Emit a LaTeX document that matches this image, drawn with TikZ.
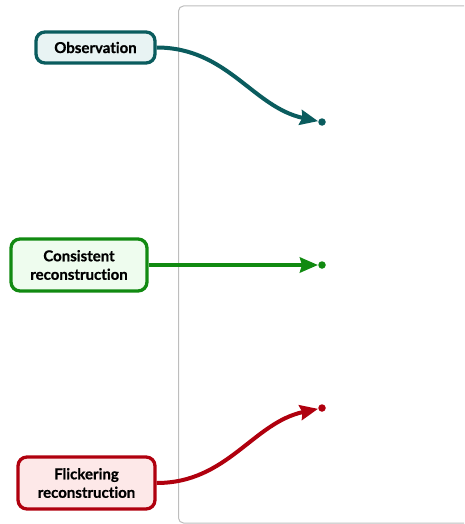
\documentclass[tikz,border=0pt]{standalone}
\usepackage{fontspec}
\setmainfont[Ligatures={NoCommon,NoRare,NoContextual},BoldFeatures={FakeBold=0.8}]{Lato}
\usetikzlibrary{arrows.meta}
\definecolor{obsB}{HTML}{0A5C5E}
\definecolor{obsF}{HTML}{E8F3F3}
\definecolor{conB}{HTML}{118A11}
\definecolor{conF}{HTML}{EEFCEE}
\definecolor{flkB}{HTML}{B0000E}
\definecolor{flkF}{HTML}{FDE8E8}
\definecolor{frameC}{HTML}{BDBDBD}
\tikzset{
  lbl/.style={draw, line width=3.3pt, rounded corners=9pt, align=center, inner sep=0pt,
    font=\fontsize{15}{18.5}\selectfont\bfseries},
  conn/.style={line width=4pt, -{Stealth[length=18pt,width=15pt,inset=2pt]}, shorten >=4pt},
  enddot/.style={circle, fill, inner sep=0pt, minimum size=7.5pt}
}
\begin{document}
\begin{tikzpicture}[x=1pt,y=-1pt]
\useasboundingbox (0,0) rectangle (464,524);
\begin{scope}
\clip (0,0) rectangle (464,524);
\draw[frameC, line width=1pt, rounded corners=5pt] (178.5,6) rectangle (480,523);
\end{scope}
\node[lbl, obsB, fill=obsF, text=black, minimum width=119pt, minimum height=31pt] (obs) at (95.5,47.5) {Observation};
\node[lbl, conB, fill=conF, text=black, minimum width=136pt, minimum height=52pt] (con) at (79,265) {Consistent\\reconstruction};
\node[lbl, flkB, fill=flkF, text=black, minimum width=137pt, minimum height=52pt] (flk) at (86.5,483) {Flickering\\reconstruction};
\node[enddot, obsB] (d1) at (322,122) {};
\node[enddot, conB] (d2) at (322,265) {};
\node[enddot, flkB] (d3) at (322,408) {};
\draw[conn, obsB] (obs.east) to[out=0,in=168] (d1.center);
\draw[conn, conB] (con.east) -- (d2.center);
\draw[conn, flkB] (flk.east) to[out=0,in=192] (d3.center);
\end{tikzpicture}
\end{document}
